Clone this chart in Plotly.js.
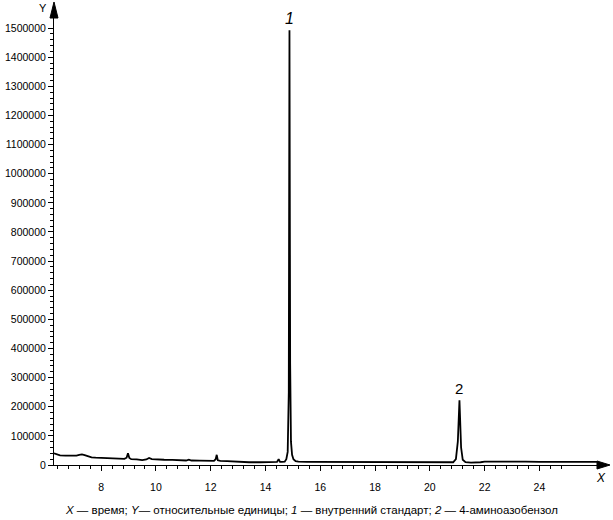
<!DOCTYPE html>
<html>
<head>
<meta charset="utf-8">
<script src="https://cdn.plot.ly/plotly-3.0.1.min.js"></script>
<style>html,body{margin:0;padding:0;background:#fff;}#chart{width:613px;height:520px;}</style>
</head>
<body>
<div id="chart"></div>
<script>
// Retention time (min)
const time = [6.28, 6.4, 6.5, 6.7, 6.9, 7.1, 7.2, 7.3, 7.4, 7.5, 7.65, 7.8, 8.0, 8.3, 8.6, 8.85, 8.93, 8.98, 9.03, 9.1,
  9.3, 9.5, 9.65, 9.75, 9.85, 10.0, 10.3, 10.6, 10.9, 11.1, 11.2, 11.3, 11.6, 11.9, 12.12, 12.18, 12.22, 12.26, 12.35, 12.6,
  12.9, 13.1, 13.4, 13.8, 14.2, 14.42, 14.48, 14.53, 14.6, 14.7, 14.76, 14.81, 14.85, 14.875, 14.9, 14.93, 14.97, 15.02, 15.1, 15.2,
  15.5, 16, 16.5, 17, 17.5, 18, 18.5, 19, 19.5, 20, 20.5, 20.85, 20.95, 21.02, 21.08, 21.14, 21.2, 21.3, 21.5, 21.7,
  21.85, 22.0, 22.3, 22.8, 23.5, 24, 24.5, 25, 25.5, 26.1];
// Detector signal (relative units)
const signal = [40000, 36000, 33000, 32000, 32000, 32500, 35000, 36500, 34000, 30000, 26000, 25000, 24500, 23500, 22500, 21000, 25000, 40000, 24000, 20000,
  19000, 17000, 19000, 24000, 20000, 18500, 18000, 17500, 15500, 15500, 18500, 15500, 15000, 14500, 14500, 20000, 35000, 16000, 14000, 13500,
  12000, 10000, 9500, 9500, 10000, 10500, 20000, 11000, 10500, 11500, 20000, 45000, 250000, 1493000, 350000, 80000, 35000, 20000, 13500, 11500,
  11000, 11000, 10500, 10500, 10000, 10000, 10000, 9500, 9500, 9000, 9000, 9500, 20000, 80000, 222000, 60000, 18000, 9500, 8000, 8000,
  9500, 11500, 12000, 12000, 11500, 11000, 11000, 11000, 11000, 11000];

const xTickVals = [8, 10, 12, 14, 16, 18, 20, 22, 24];
const yTickVals = [0, 100000, 200000, 300000, 400000, 500000, 600000, 700000, 800000, 900000, 1000000, 1100000, 1200000, 1300000, 1400000, 1500000];
const peakLabels = ["1", "2"];
const peakTimes = [14.875, 21.08];
const peakHeights = [1493000, 222000];
const caption = "<i>X</i> — время; <i>Y</i>— относительные единицы; <i>1</i> — внутренний стандарт; <i>2</i> — 4-аминоазобензол";

const xMinor = [];
for (let v = 6.4; v <= 24.81; v += 0.4) xMinor.push(Math.round(v * 10) / 10);
const yMinor = [];
for (let v = 0; v <= 1500000; v += 20000) yMinor.push(v);

const font = "Liberation Sans, Arial, sans-serif";

const trace = {
  x: time, y: signal, type: "scatter", mode: "lines",
  line: {color: "#000", width: 1.8}, hoverinfo: "skip", showlegend: false
};

const annotations = [
  {xref: "x", yref: "y", x: peakTimes[0], y: peakHeights[0], text: "<i>" + peakLabels[0] + "</i>", showarrow: false,
   xanchor: "center", yanchor: "bottom", yshift: 1, font: {family: font, size: 16, color: "#000"}},
  {xref: "x", yref: "y", x: peakTimes[1], y: peakHeights[1], text: peakLabels[1], showarrow: false,
   xanchor: "center", yanchor: "bottom", yshift: 1, font: {family: font, size: 15, color: "#000"}},
  {xref: "paper", yref: "paper", x: -0.0201, y: 1.0156, text: "Y", showarrow: false,
   xanchor: "center", yanchor: "middle", font: {family: font, size: 11, color: "#000"}},
  {xref: "paper", yref: "paper", x: 1.0018, y: -0.029, text: "<i>X</i>", showarrow: false,
   xanchor: "center", yanchor: "middle", font: {family: font, size: 12, color: "#000"}},
  {xref: "paper", yref: "paper", x: 0.4725, y: -0.1, text: caption, showarrow: false,
   xanchor: "center", yanchor: "middle", font: {family: font, size: 11.5, color: "#000"}}
];

const shapes = [
  {type: "path", xref: "paper", yref: "paper", path: "M -0.00733 0.9933 L 0 1.0289 L 0.00733 0.9933 Z",
   fillcolor: "#000", line: {color: "#000", width: 1}},
  {type: "path", xref: "paper", yref: "paper", path: "M 0.9945 0.0089 L 1.0183 0 L 0.9945 -0.0089 Z",
   fillcolor: "#000", line: {color: "#000", width: 1}}
];

const layout = {
  width: 613, height: 520,
  margin: {l: 54, r: 13, t: 15, b: 55},
  paper_bgcolor: "#fff", plot_bgcolor: "#fff",
  font: {family: font, size: 10.5, color: "#000"},
  xaxis: {
    range: [6.28, 26.21], showgrid: false, zeroline: false, showline: true, linecolor: "#000", linewidth: 1,
    tickmode: "array", tickvals: xTickVals, ticktext: xTickVals.map(String), ticks: "outside", ticklen: 5, tickwidth: 1, tickcolor: "#000",
    ticklabelstandoff: 7,
    tickfont: {family: font, size: 10.5, color: "#000"},
    minor: {tickmode: "array", tickvals: xMinor, ticks: "outside", ticklen: 3, tickwidth: 1, tickcolor: "#000", showgrid: false}
  },
  yaxis: {
    range: [0, 1545000], showgrid: false, zeroline: false, showline: true, linecolor: "#000", linewidth: 1,
    tickmode: "array", tickvals: yTickVals, ticktext: yTickVals.map(String), ticks: "outside", ticklen: 5, tickwidth: 1, tickcolor: "#000",
    tickfont: {family: font, size: 10.5, color: "#000"},
    minor: {tickmode: "array", tickvals: yMinor, ticks: "outside", ticklen: 3, tickwidth: 1, tickcolor: "#000", showgrid: false}
  },
  annotations: annotations,
  shapes: shapes
};

Plotly.newPlot("chart", [trace], layout, {staticPlot: true, displayModeBar: false});
</script>
</body>
</html>
